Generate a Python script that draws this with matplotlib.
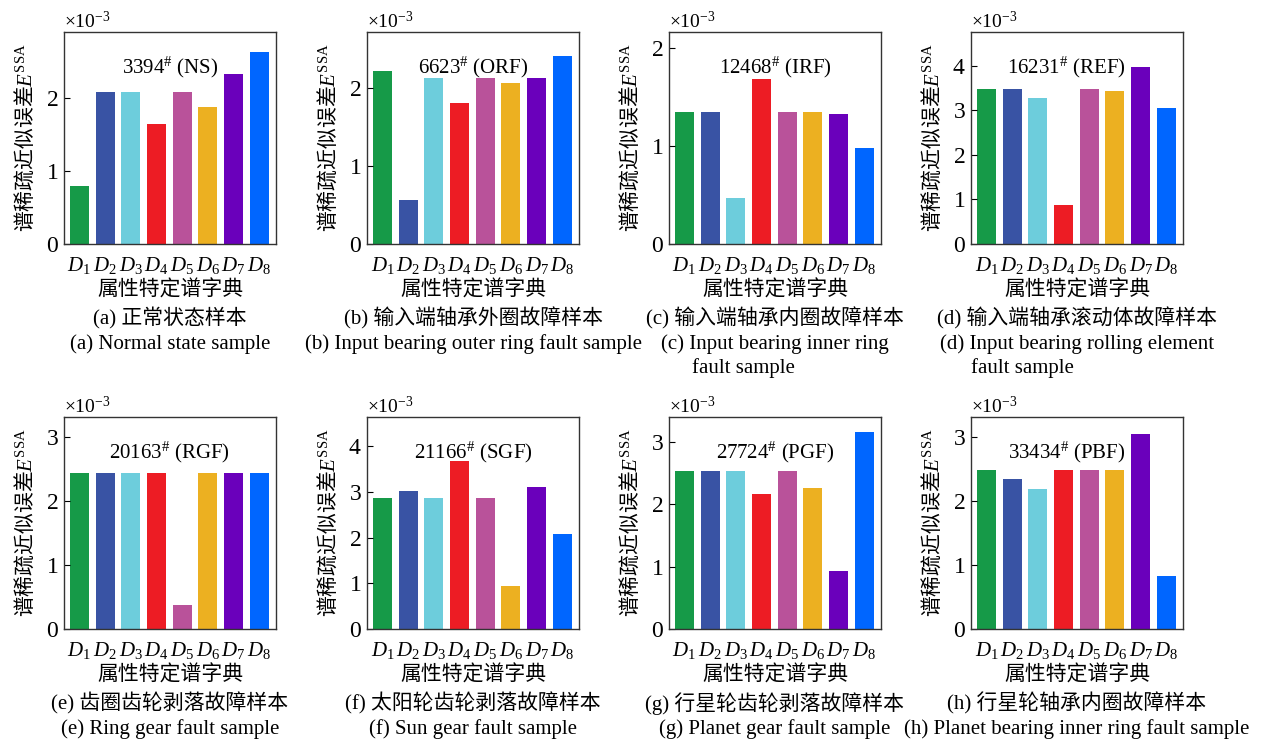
import matplotlib
matplotlib.use('Agg')
import matplotlib.pyplot as plt
from matplotlib.ticker import ScalarFormatter, MultipleLocator
import numpy as np

plt.rcParams['font.family'] = ['Liberation Serif', 'Noto Sans CJK SC']
plt.rcParams['mathtext.fontset'] = 'custom'
plt.rcParams['mathtext.rm'] = 'Liberation Serif'
plt.rcParams['mathtext.it'] = 'Liberation Serif:italic'
plt.rcParams['mathtext.sf'] = 'Noto Sans CJK SC'  # used for the Chinese part of the y label
plt.rcParams['axes.unicode_minus'] = True

# dictionaries D1..D8
dicts = [r'$D_{%d}$' % i for i in range(1, 9)]
colors = ['#169a48', '#3953a4', '#6dcddc', '#ed1c24',
          '#b9529a', '#ecb021', '#6a00bb', '#0066ff']

# approximation error per sample (x 1e-3)
err_a = [0.79, 2.08, 2.08, 1.64, 2.08, 1.88, 2.33, 2.63]
err_b = [2.22, 0.56, 2.12, 1.80, 2.12, 2.06, 2.12, 2.41]
err_c = [1.35, 1.35, 0.47, 1.68, 1.35, 1.35, 1.33, 0.98]
err_d = [3.47, 3.47, 3.27, 0.87, 3.47, 3.43, 3.98, 3.05]
err_e = [2.43, 2.43, 2.43, 2.43, 0.37, 2.43, 2.43, 2.43]
err_f = [2.88, 3.03, 2.88, 3.69, 2.88, 0.95, 3.12, 2.09]
err_g = [2.54, 2.54, 2.54, 2.16, 2.54, 2.27, 0.93, 3.17]
err_h = [2.48, 2.34, 2.18, 2.48, 2.48, 2.48, 3.04, 0.83]
errors = [err_a, err_b, err_c, err_d, err_e, err_f, err_g, err_h]

ymax = [2.9, 2.71, 2.16, 4.75, 3.3, 4.64, 3.4, 3.3]
sample_tags = ['3394$^{\\#}$ (NS)', '6623$^{\\#}$ (ORF)', '12468$^{\\#}$ (IRF)',
               '16231$^{\\#}$ (REF)', '20163$^{\\#}$ (RGF)', '21166$^{\\#}$ (SGF)',
               '27724$^{\\#}$ (PGF)', '33434$^{\\#}$ (PBF)']
cn_captions = ['(a) 正常状态样本', '(b) 输入端轴承外圈故障样本', '(c) 输入端轴承内圈故障样本',
               '(d) 输入端轴承滚动体故障样本', '(e) 齿圈齿轮剥落故障样本',
               '(f) 太阳轮齿轮剥落故障样本', '(g) 行星轮齿轮剥落故障样本',
               '(h) 行星轮轴承内圈故障样本']
en_captions = ['(a) Normal state sample', '(b) Input bearing outer ring fault sample',
               '(c) Input bearing inner ring', '(d) Input bearing rolling element',
               '(e) Ring gear fault sample', '(f) Sun gear fault sample',
               '(g) Planet gear fault sample', '(h) Planet bearing inner ring fault sample']
en_second = ['', '', 'fault sample', 'fault sample', '', '', '', '']
ylabel = r'$\mathsf{谱稀疏近似误差}E^{\mathrm{SSA}}$'
xlabel = '属性特定谱字典'
tag_x = [0.5, 0.5, 0.5, 0.45, 0.5, 0.5, 0.5, 0.45]

fig = plt.figure(figsize=(12.67, 7.43), dpi=100)
lefts = [0.0505, 0.2897, 0.5280, 0.7664]
bottoms = [0.6716, 0.1534]
w, h = 0.1673, 0.2850

x = np.arange(1, 9)
for k in range(8):
    r, c = divmod(k, 4)
    ax = fig.add_axes([lefts[c], bottoms[r], w, h])
    vals = np.array(errors[k]) * 1e-3
    ax.bar(x, vals, width=0.74, color=colors)
    ax.set_xlim(0.4, 8.65)
    ax.set_ylim(0, ymax[k] * 1e-3)
    ax.yaxis.set_major_locator(MultipleLocator(1e-3))
    fmt = ScalarFormatter(useMathText=True)
    fmt.set_powerlimits((-3, -3))
    ax.yaxis.set_major_formatter(fmt)
    ax.yaxis.get_offset_text().set_fontsize(14)
    ax.set_xticks(x)
    ax.set_xticklabels(dicts, fontsize=15)
    ax.tick_params(axis='x', length=0, pad=8)
    ax.tick_params(axis='y', direction='in', length=4, labelsize=17, pad=4)
    for s in ax.spines.values():
        s.set_linewidth(1.0)
        s.set_color('#333333')
    ax.set_ylabel(ylabel, fontsize=15, labelpad=6)
    ax.set_xlabel(xlabel, fontsize=15, labelpad=3)
    ax.text(tag_x[k], 0.835, sample_tags[k], transform=ax.transAxes,
            ha='center', va='center', fontsize=15)
    ax.annotate(cn_captions[k], xy=(0.5, 0), xycoords='axes fraction',
                xytext=(0, -53.5), textcoords='offset points',
                ha='center', va='center', fontsize=15)
    t1 = ax.annotate(en_captions[k], xy=(0.5, 0), xycoords='axes fraction',
                     xytext=(0, -72), textcoords='offset points',
                     ha='center', va='center', fontsize=15)
    if en_second[k]:
        ax.annotate(en_second[k], xy=(0, 0.5), xycoords=t1,
                    xytext=(22.5, -17.5), textcoords='offset points',
                    ha='left', va='center', fontsize=15)

fig.savefig('out.png', dpi=100)
